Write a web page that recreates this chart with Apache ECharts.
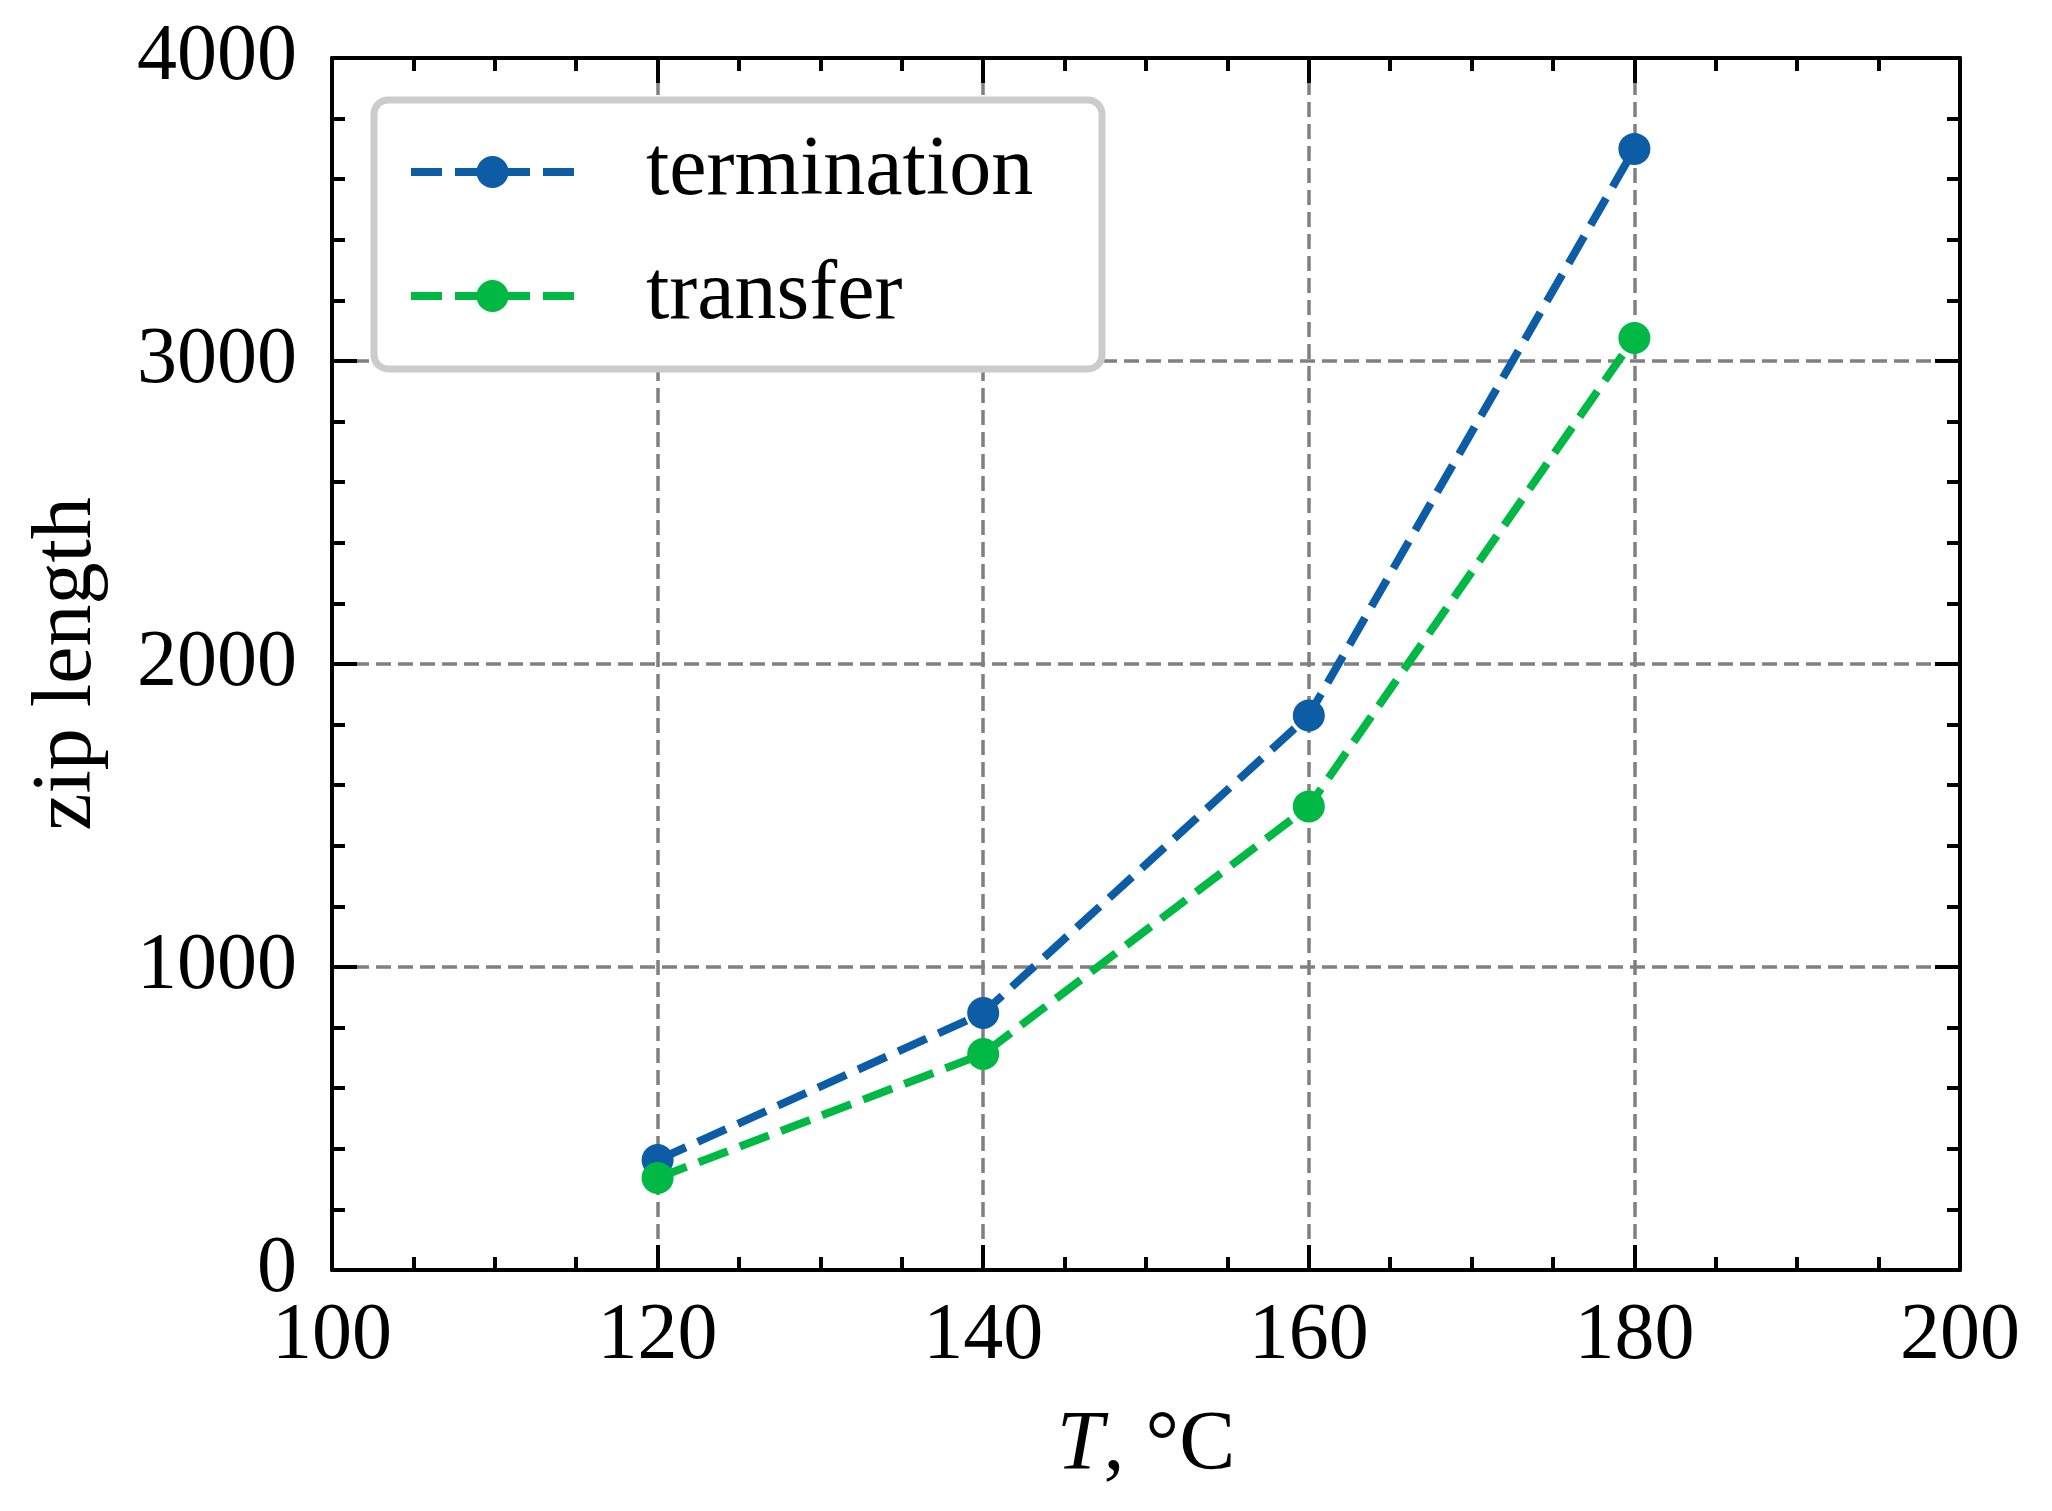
<!DOCTYPE html>
<html><head><meta charset="utf-8">
<script src="https://cdn.jsdelivr.net/npm/echarts@6/dist/echarts.min.js"></script>
<style>html,body{margin:0;padding:0;background:#fff}#c{width:2052px;height:1511px}</style>
</head><body><div id="c"></div>
<script>
const temperatures = [120, 140, 160, 180];
const termination = [363, 848, 1830, 3700];
const transfer = [304, 713, 1530, 3076];
const seriesNames = ['termination', 'transfer'];
const seriesColors = ['#0C5DA5', '#00B945'];
const xTickValues = [100, 120, 140, 160, 180, 200];
const yTickValues = [0, 1000, 2000, 3000, 4000];
const xAxisTitle = ['T', ', °C'];
const yAxisTitle = 'zip length';

const FONT = "'Liberation Serif', 'DejaVu Serif', serif";
const DASH = [31, 13];
const axisBase = (isX, primary) => {
  const ticks = isX ? xTickValues : yTickValues;
  return {
    type: 'value',
    min: ticks[0], max: ticks[ticks.length - 1],
    interval: ticks[1] - ticks[0],
    axisLine: { show: true, onZero: false, lineStyle: { color: '#000', width: 4 } },
    axisTick: { show: true, inside: true, length: 25, lineStyle: { color: '#000', width: 4 } },
    minorTick: { show: true, splitNumber: isX ? 4 : 5, length: 13, lineStyle: { color: '#000', width: 4 } },
    axisLabel: { show: primary, color: '#000', fontFamily: FONT, fontSize: 80, margin: isX ? 27 : 35,
      formatter: v => String(v) },
    splitLine: { show: primary, lineStyle: { color: '#808080', width: 3.5, type: [15, 7] } },
    minorSplitLine: { show: false }
  };
};

const xPrimary = Object.assign(axisBase(true, true), {
  position: 'bottom',
  name: '{i|' + xAxisTitle[0] + '}{n|' + xAxisTitle[1] + '}',
  nameLocation: 'middle', nameGap: 135,
  nameTextStyle: { fontFamily: FONT, fontSize: 84, color: '#000',
    rich: { i: { fontFamily: FONT, fontSize: 84, fontStyle: 'italic', color: '#000' },
            n: { fontFamily: FONT, fontSize: 84, color: '#000' } } }
});
const xMirror = Object.assign(axisBase(true, false), { position: 'top' });
const yPrimary = Object.assign(axisBase(false, true), {
  position: 'left',
  name: yAxisTitle, nameLocation: 'middle', nameGap: 222, nameRotate: 90,
  nameTextStyle: { fontFamily: FONT, fontSize: 84, color: '#000' }
});
const yMirror = Object.assign(axisBase(false, false), { position: 'right' });

const series = [termination, transfer].map((vals, k) => ({
  name: seriesNames[k], type: 'line', xAxisIndex: 0, yAxisIndex: 0,
  data: temperatures.map((t, i) => [t, vals[i]]),
  symbol: 'circle', symbolSize: 32, showSymbol: true,
  itemStyle: { color: seriesColors[k] },
  lineStyle: { color: seriesColors[k], width: 8, type: DASH },
  z: 3, animation: false
}));

const chart = echarts.init(document.getElementById('c'), null, { renderer: 'canvas' });
chart.setOption({
  animation: false,
  backgroundColor: '#fff',
  grid: { left: 332, right: 92, top: 58, bottom: 241, containLabel: false, outerBoundsMode: 'none' },
  xAxis: [xPrimary, xMirror],
  yAxis: [yPrimary, yMirror],
  legend: {
    orient: 'vertical', left: 374, top: 100,
    data: seriesNames,
    itemWidth: 163, itemHeight: 40, itemGap: 40,
    padding: [30, 36, 31, 33],
    backgroundColor: '#fff', borderColor: '#cccccc', borderWidth: 7, borderRadius: 14,
    lineStyle: { width: 8, type: DASH },
    textStyle: { fontFamily: FONT, fontSize: 84, color: '#000', lineHeight: 84, width: 420, padding: [0, 0, 0, 67] },
    selectedMode: false
  },
  series: series
});
</script></body></html>
